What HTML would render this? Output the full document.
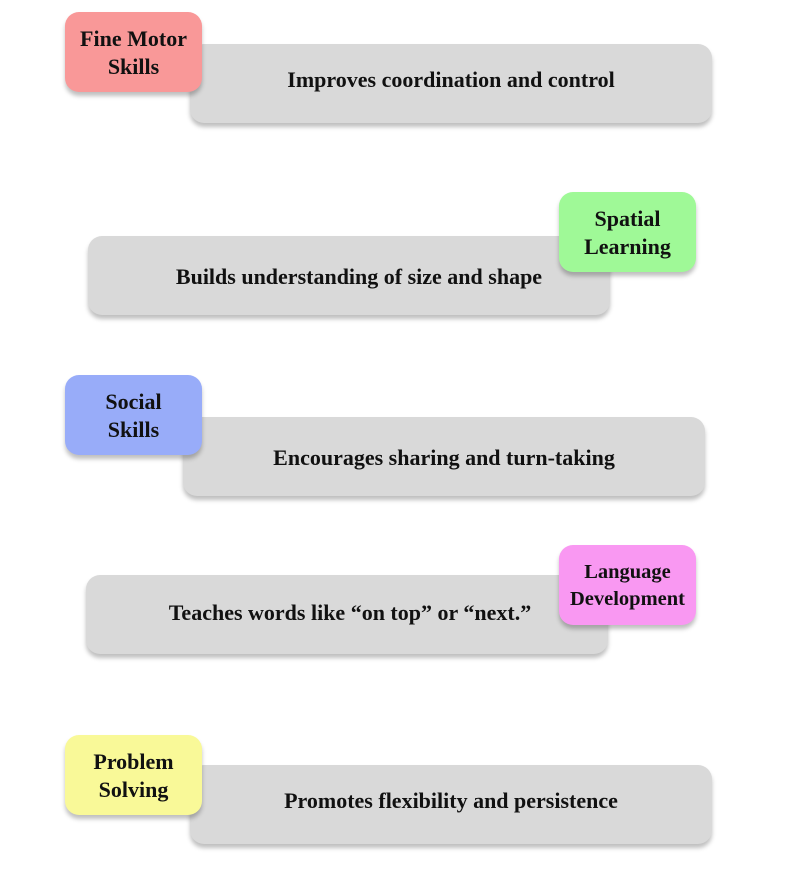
<!DOCTYPE html>
<html><head><meta charset="utf-8"><style>
body{margin:0;width:802px;height:877px;background:#fff;position:relative;overflow:hidden;font-family:"Liberation Serif",serif;font-weight:bold;color:#111}
.b{position:absolute;border-radius:14px;box-shadow:0 4px 4px rgba(0,0,0,0.25);display:flex;align-items:center;justify-content:center;text-align:center;box-sizing:border-box}
.g{background:#d9d9d9;font-size:22px;height:79px;width:522px}
.l{width:137px;height:80px;font-size:22px;line-height:28px;padding-top:2px}
</style></head><body>
<div class="b g" style="left:190px;top:44px;padding-bottom:8px">Improves coordination and control</div>
<div class="b l" style="left:65px;top:12px;background:#f99898">Fine Motor<br>Skills</div>

<div class="b g" style="left:88px;top:236px;padding-left:20px;padding-top:2px">Builds understanding of size and shape</div>
<div class="b l" style="left:559px;top:192px;background:#9ff997">Spatial<br>Learning</div>

<div class="b g" style="left:183px;top:417px;padding-top:2px">Encourages sharing and turn-taking</div>
<div class="b l" style="left:65px;top:375px;background:#98acf9">Social<br>Skills</div>

<div class="b g" style="left:86px;top:575px;padding-left:6px;padding-bottom:4px">Teaches words like “on top” or “next.”</div>
<div class="b l" style="left:559px;top:545px;background:#f998f2;font-size:20.5px;line-height:27px">Language<br>Development</div>

<div class="b g" style="left:190px;top:765px;padding-bottom:8px">Promotes flexibility and persistence</div>
<div class="b l" style="left:65px;top:735px;background:#f9f998">Problem<br>Solving</div>
</body></html>
